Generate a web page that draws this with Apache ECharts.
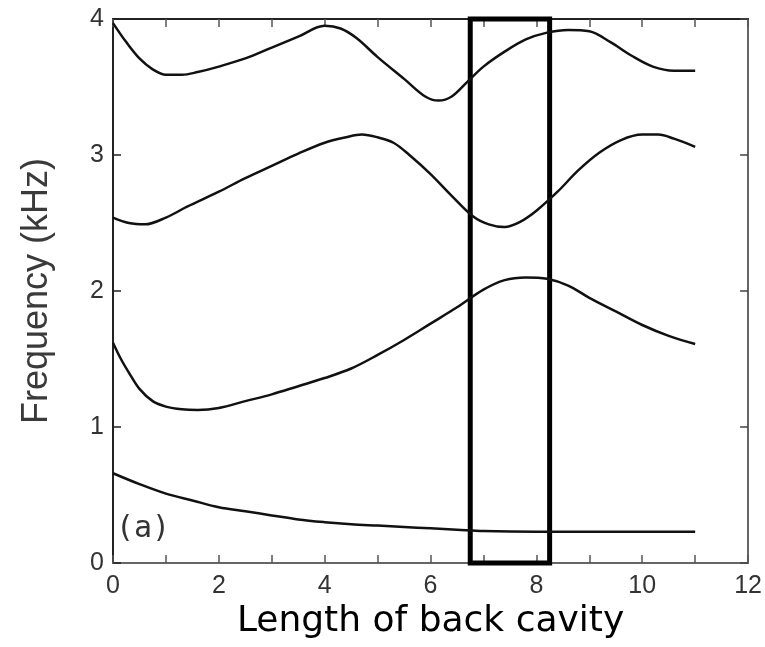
<!DOCTYPE html>
<html>
<head>
<meta charset="utf-8">
<script src="https://cdn.jsdelivr.net/npm/echarts@6/dist/echarts.min.js"></script>
<style>
html,body{margin:0;padding:0;background:#fff;}
#chart{width:765px;height:647px;}
</style>
</head>
<body>
<div id="chart"></div>
<script>
// Mode 1 (lowest)
const len1  = [0, 0.5, 1.0, 1.5, 2.0, 2.5, 3.0, 3.5, 4.0, 4.5, 5.0, 5.5, 6.0, 6.5, 7.0, 8.0, 9.0, 10.0, 11.0];
const freq1 = [0.66, 0.58, 0.51, 0.46, 0.41, 0.38, 0.35, 0.32, 0.30, 0.285, 0.275, 0.265, 0.255, 0.245, 0.235, 0.23, 0.23, 0.23, 0.23];
// Mode 2
const len2  = [0, 0.15, 0.3, 0.5, 0.75, 1.0, 1.3, 1.6, 2.0, 2.5, 3.0, 3.5, 4.0, 4.5, 5.0, 5.5, 6.0, 6.5, 7.0, 7.4, 7.8, 8.2, 8.6, 9.0, 9.5, 10.0, 10.5, 11.0];
const freq2 = [1.62, 1.50, 1.40, 1.28, 1.19, 1.15, 1.13, 1.125, 1.14, 1.19, 1.24, 1.30, 1.36, 1.43, 1.53, 1.64, 1.76, 1.88, 2.01, 2.08, 2.10, 2.09, 2.04, 1.95, 1.85, 1.75, 1.67, 1.61];
// Mode 3
const len3  = [0, 0.3, 0.6, 1.0, 1.4, 2.0, 2.5, 3.0, 3.5, 4.0, 4.4, 4.7, 5.0, 5.3, 5.6, 6.0, 6.4, 6.8, 7.1, 7.4, 7.7, 8.0, 8.4, 8.8, 9.2, 9.6, 10.0, 10.3, 10.6, 11.0];
const freq3 = [2.54, 2.50, 2.49, 2.54, 2.62, 2.73, 2.83, 2.92, 3.01, 3.09, 3.13, 3.15, 3.13, 3.09, 3.00, 2.86, 2.70, 2.55, 2.49, 2.47, 2.51, 2.59, 2.73, 2.89, 3.02, 3.11, 3.15, 3.15, 3.12, 3.06];
// Mode 4 (highest)
const len4  = [0, 0.25, 0.5, 0.75, 1.0, 1.3, 1.6, 2.0, 2.5, 3.0, 3.5, 4.0, 4.3, 4.6, 5.0, 5.5, 5.9, 6.15, 6.4, 6.7, 7.0, 7.4, 7.8, 8.2, 8.6, 9.0, 9.4, 9.8, 10.2, 10.6, 11.0];
const freq4 = [3.97, 3.83, 3.71, 3.63, 3.59, 3.59, 3.61, 3.65, 3.71, 3.79, 3.87, 3.95, 3.93, 3.86, 3.72, 3.56, 3.43, 3.40, 3.43, 3.54, 3.65, 3.76, 3.85, 3.90, 3.92, 3.91, 3.83, 3.73, 3.65, 3.62, 3.62];

// Highlight box (length range, frequency range)
const boxLen  = [6.75, 8.25];
const boxFreq = [0, 4];

// Tick labels
const xTickLabels = [0, 2, 4, 6, 8, 10, 12];
const yTickLabels = [0, 1, 2, 3, 4];

const xName = 'Length of back cavity';
const yName = 'Frequency (kHz)';
const panelLabel = '(a)';

function pairs(xs, ys) { return xs.map((x, i) => [x, ys[i]]); }

const lineStyle = { color: '#111', width: 2.5 };
function curve(xs, ys) {
  return {
    type: 'line', data: pairs(xs, ys), showSymbol: false, smooth: 0.35,
    lineStyle: lineStyle, silent: true, xAxisIndex: 0, yAxisIndex: 0
  };
}

const chart = echarts.init(document.getElementById('chart'));
const tickFont = { fontFamily: 'Liberation Sans', fontSize: 25, color: '#333' };

const series = [curve(len1, freq1), curve(len2, freq2), curve(len3, freq3), curve(len4, freq4)];
series[0].markArea = {
  silent: true,
  itemStyle: { color: 'rgba(0,0,0,0)', borderColor: '#000', borderWidth: 5 },
  data: [[{ coord: [boxLen[0], boxFreq[0]] }, { coord: [boxLen[1], boxFreq[1]] }]]
};

chart.setOption({
  animation: false,
  backgroundColor: '#fff',
  grid: { left: 113, right: 14, top: 19, bottom: 84 },
  xAxis: [{
    type: 'value', min: 0, max: 12, interval: 1, position: 'bottom',
    name: xName, nameLocation: 'middle', nameGap: 40,
    nameTextStyle: { fontFamily: 'DejaVu Sans', fontSize: 36, color: '#000' },
    axisLine: { show: true, onZero: false, lineStyle: { color: '#666', width: 2 } },
    axisTick: { show: true, inside: true, length: 8, lineStyle: { color: '#555', width: 1.5 } },
    axisLabel: Object.assign({ margin: 11, formatter: v => xTickLabels.includes(v) ? String(v) : '' }, tickFont),
    splitLine: { show: false }
  }, {
    type: 'value', min: 0, max: 12, interval: 1, position: 'top',
    axisLine: { show: true, onZero: false, lineStyle: { color: '#222', width: 2 } },
    axisTick: { show: true, inside: true, length: 8, lineStyle: { color: '#555', width: 1.5 } },
    axisLabel: { show: false }, splitLine: { show: false }
  }],
  yAxis: [{
    type: 'value', min: 0, max: 4, interval: 1, position: 'left',
    name: yName, nameLocation: 'middle', nameGap: 58, nameRotate: 90,
    nameTextStyle: { fontFamily: 'Liberation Sans', fontSize: 36, color: '#3a3a3a' },
    axisLine: { show: true, onZero: false, lineStyle: { color: '#222', width: 2 } },
    axisTick: { show: true, inside: true, length: 8, lineStyle: { color: '#222', width: 1.5 } },
    axisLabel: Object.assign({ margin: 9, formatter: v => yTickLabels.includes(v) ? String(v) : '' }, tickFont),
    splitLine: { show: false }
  }, {
    type: 'value', min: 0, max: 4, interval: 1, position: 'right',
    axisLine: { show: true, onZero: false, lineStyle: { color: '#666', width: 2 } },
    axisTick: { show: true, inside: true, length: 8, lineStyle: { color: '#444', width: 1.5 } },
    axisLabel: { show: false }, splitLine: { show: false }
  }],
  graphic: [{
    type: 'text', left: 116, top: 514, silent: true,
    style: { text: panelLabel, fontFamily: 'DejaVu Sans Mono', fontSize: 30, fill: '#333' }
  }],
  series: series
});
</script>
</body>
</html>
